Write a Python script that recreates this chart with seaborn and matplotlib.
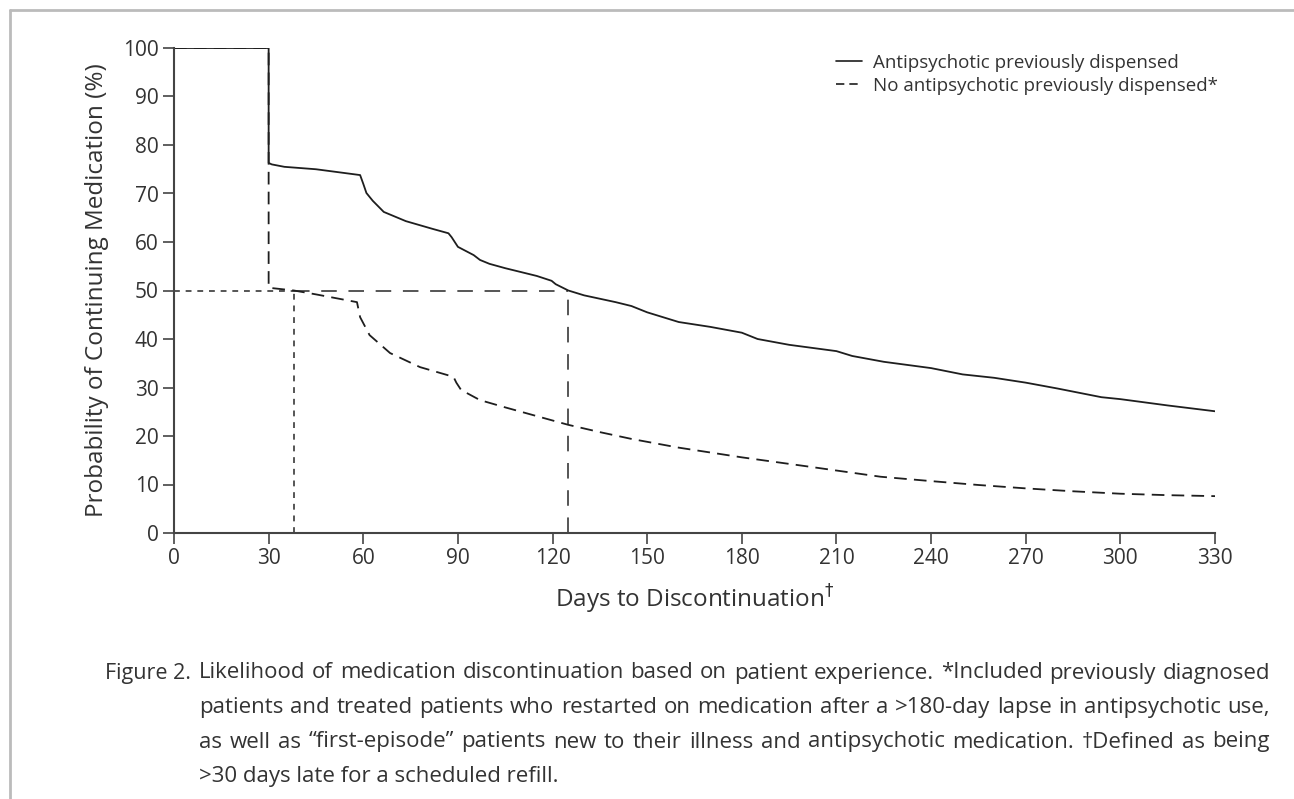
import numpy as np
import matplotlib
matplotlib.use("Agg")
import matplotlib.pyplot as plt
import matplotlib.lines as mlines
import seaborn as sns

# Kaplan-Meier style curves
days_prev = [0, 30, 30, 31, 35, 45, 59, 60, 61, 63, 66.5, 73.5, 82, 87, 88, 90,
             95, 97, 100, 105, 110, 115, 119.7, 121, 125, 130, 140, 145, 150,
             155, 160, 170, 180, 185, 195, 210, 215, 225, 240, 250, 260, 270,
             280, 294, 300, 315, 330]
pct_prev = [100, 100, 76.3, 76.0, 75.5, 75.0, 73.8, 72.0, 70.1, 68.5, 66.2,
            64.3, 62.7, 61.8, 61.0, 59.0, 57.3, 56.3, 55.5, 54.6, 53.8, 53.0,
            52.0, 51.3, 50.0, 49.0, 47.6, 46.8, 45.5, 44.5, 43.5, 42.5, 41.3,
            40.0, 38.8, 37.5, 36.5, 35.3, 34.0, 32.7, 32.0, 31.0, 29.8, 28.0,
            27.6, 26.3, 25.1]

days_new = [0, 30, 30, 31, 38, 45, 58, 59, 62, 68.5, 78, 88.6, 89.5, 91, 97,
            105, 115, 125, 135, 145, 160, 180, 200, 224, 240, 255, 270, 285,
            300, 315, 330]
pct_new = [100, 100, 50.7, 50.5, 50.0, 49.2, 47.6, 44.5, 40.8, 37.1, 34.2,
           32.2, 31.0, 29.5, 27.4, 25.9, 24.1, 22.3, 20.8, 19.4, 17.6, 15.6,
           13.8, 11.6, 10.7, 9.9, 9.2, 8.6, 8.1, 7.8, 7.6]

median_level = 50
median_new = 38
median_prev = 125

x_ticks = list(range(0, 331, 30))
y_ticks = list(range(0, 101, 10))

legend_labels = ["Antipsychotic previously dispensed",
                 "No antipsychotic previously dispensed*"]

caption_head = "Figure 2."
caption_lines = [
    "Likelihood of medication discontinuation based on patient experience. *Included previously diagnosed",
    "patients and treated patients who restarted on medication after a >180-day lapse in antipsychotic use,",
    "as well as \u201cfirst-episode\u201d patients new to their illness and antipsychotic medication. \u2020Defined as being",
    ">30 days late for a scheduled refill.",
]

sns.set_style("ticks")
plt.rcParams["font.family"] = ["Open Sans", "DejaVu Sans"]
plt.rcParams["mathtext.fontset"] = "dejavusans"

ink = "#1e1e1e"
ref_grey = "#555555"
txt = "#333333"

W, H = 1294, 799
fig = plt.figure(figsize=(W / 100, H / 100), dpi=100)
ax = fig.add_axes([174 / W, 1 - 533 / H, (1215 - 174) / W, (533 - 48) / H])

# reference lines for the medians
ax.plot([0, median_new], [median_level, median_level], color=ref_grey,
        lw=1.4, dashes=(3, 3))
ax.plot([median_new, median_new], [0, median_level], color=ref_grey,
        lw=1.4, dashes=(3, 3))
ax.plot([median_new, median_prev], [median_level, median_level], color=ref_grey,
        lw=1.4, dashes=(8, 6))
ax.plot([median_prev, median_prev], [0, median_level], color=ref_grey,
        lw=1.4, dashes=(8, 6))

sns.lineplot(x=days_new, y=pct_new, sort=False, estimator=None, ax=ax,
             color=ink, linewidth=1.3)
ax.lines[-1].set_dashes((7, 4))
sns.lineplot(x=days_prev, y=pct_prev, sort=False, estimator=None, ax=ax,
             color=ink, linewidth=1.3)

ax.set_xlim(0, 330)
ax.set_ylim(0, 100)
ax.set_xticks(x_ticks)
ax.set_yticks(y_ticks)
ax.tick_params(axis="both", length=8, width=1.2, color="#444444",
               labelsize=15, labelcolor=txt, pad=3)
for side in ["left", "bottom"]:
    ax.spines[side].set_color("#444444")
    ax.spines[side].set_linewidth(1.5)
sns.despine(ax=ax)

ax.set_xlabel("Days to Discontinuation$^{\\dagger}$", fontsize=17.5,
              color=txt, labelpad=10)
ax.set_ylabel("Probability of Continuing Medication (%)", fontsize=17.5,
              color=txt, labelpad=10)

h1 = mlines.Line2D([], [], color=ink, lw=1.2)
h2 = mlines.Line2D([], [], color=ink, lw=1.2, dashes=(5, 3))
fig.legend([h1, h2], legend_labels, loc="upper left",
           bbox_to_anchor=(836 / W, 1 - 54 / H), frameon=False,
           fontsize=13.5, handlelength=1.4, handletextpad=0.6, borderpad=0,
           borderaxespad=0, labelspacing=0.25, labelcolor=txt)

# caption, lines stretched to a justified right edge
cap_size = 16
renderer = fig.canvas.get_renderer()
fig.text(191 / W, 1 - 673 / H, caption_head, fontsize=15.5, color=txt,
         va="center", ha="right", fontweight="medium")
x_left, x_right = 199, 1270
for i, line in enumerate(caption_lines):
    y = 1 - (673 + 34.5 * i) / H
    if i == len(caption_lines) - 1:
        fig.text(x_left / W, y, line, fontsize=cap_size, color=txt,
                 va="center", ha="left", fontweight="medium")
        continue
    words = line.split(" ")
    pieces = [fig.text(0, y, w_, fontsize=cap_size, color=txt, va="center",
                       ha="left", fontweight="medium") for w_ in words]
    widths = [p.get_window_extent(renderer).width for p in pieces]
    gap = (x_right - x_left - sum(widths)) / (len(words) - 1)
    x = x_left
    for p, w_ in zip(pieces, widths):
        p.set_x(x / W)
        x += w_ + gap

# light frame on top and left
fig.add_artist(mlines.Line2D([10 / W, 1], [1 - 10 / H, 1 - 10 / H],
                             color="#bbbbbb", lw=2, transform=fig.transFigure))
fig.add_artist(mlines.Line2D([10 / W, 10 / W], [0, 1 - 10 / H],
                             color="#bbbbbb", lw=2, transform=fig.transFigure))

fig.savefig("out.png", dpi=100)
